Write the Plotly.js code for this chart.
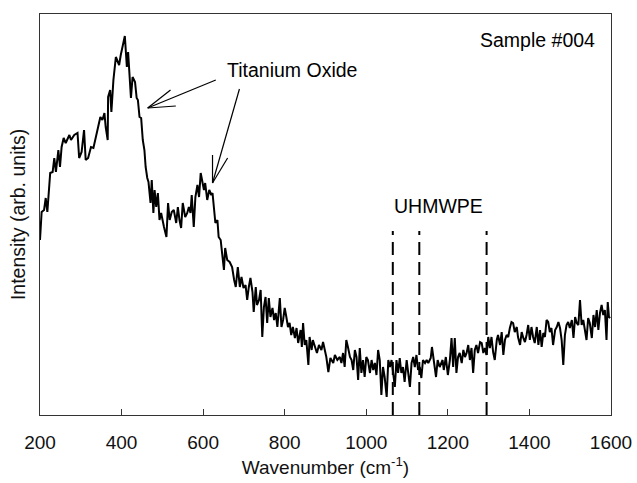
<!DOCTYPE html>
<html>
<head>
<meta charset="utf-8">
<script src="https://cdn.plot.ly/plotly-3.0.1.min.js"></script>
<style>html,body{margin:0;padding:0;background:#fff;}#chart{width:637px;height:483px;}</style>
</head>
<body>
<div id="chart"></div>
<script>
// Raman spectrum (wavenumber in cm^-1, intensity in arbitrary units)
const wavenumber = [
200,204,210,214,218,225,231,235,239,245,249,253,258,263,272,276,284,292,296,302,308,312,318,325,331,337,343,348,353,358,361,366,367,372,375,380,386,390,394,398,405,408,413,416,423,427,433,437,
440,444,448,452,456,459,463,466,471,474,478,481,485,489,493,497,504,510,514,518,523,528,534,538,542,546,550,556,561,565,569,572,577,581,586,590,594,598,602,605,610,615,620,623,627,630,635,638,643,646,651,654,659,665,671,676,
680,685,690,694,699,704,708,712,716,721,724,729,732,737,741,745,749,753,757,761,765,770,774,778,782,788,792,796,800,804,808,812,816,820,825,829,833,839,842,845,849,853,858,861,866,869,874,879,884,890,894,898,902,907,912,919,923,
929,935,939,943,947,951,955,960,964,968,972,976,980,984,988,992,996,1000,1004,1009,1013,1017,1021,1025,1029,1033,1037,1041,1045,1050,1054,1058,1062,1066,1070,1074,1078,1082,1086,1090,1094,1099,1103,1107,1111,1115,1119,1123,1127,1131,1135,1139,1144,1148,1152,1158,1161,1166,1171,1175,1180,
1187,1190,1195,1200,1205,1209,1213,1217,1221,1225,1229,1234,1238,1242,1246,1250,1254,1258,1262,1266,1270,1274,1279,1283,1287,1291,1295,1299,1303,1307,1311,1315,1320,1323,1328,1332,1336,1340,1344,1348,1352,1356,1360,1364,1369,1372,1377,1381,1385,1389,1393,1397,1401,1405,1409,1413,
1418,1422,1426,1430,1434,1438,1442,1446,1450,1454,1458,1463,1467,1471,1475,1479,1483,1487,1491,1495,1499,1504,1508,1512,1516,1520,1524,1528,1532,1536,1540,1544,1548,1553,1557,1561,1565,1569,1573,1577,1581,1585,1589,1592,1595,1598
];
const intensity = [
174,202,204,216,202,241,242,256,242,264,247,267,276,271,279,274,279,281,256,262,284,254,256,267,266,276,289,297,294,301,287,274,317,324,302,334,357,352,349,359,374,378,347,362,316,337,332,316,
314,297,296,274,264,247,236,232,211,234,201,224,207,221,194,201,187,177,211,194,202,204,191,207,194,186,211,197,201,207,201,219,187,217,229,217,241,234,224,231,214,224,219,221,201,191,194,177,174,164,144,166,154,152,147,134,
127,147,127,137,126,129,114,127,136,122,102,127,109,114,124,77,107,117,91,116,97,106,94,101,87,116,87,94,106,97,87,91,79,87,76,86,71,84,67,91,69,74,49,77,64,74,67,61,69,64,72,64,57,42,56,51,59,
54,57,51,61,47,74,67,57,54,44,64,57,34,66,41,54,37,57,54,41,54,44,51,39,64,54,19,47,37,17,54,47,54,37,27,54,41,56,41,47,32,54,41,27,51,57,47,59,44,47,36,54,51,54,51,56,67,54,37,54,47,
54,44,57,39,54,76,47,76,41,57,61,51,64,57,61,69,54,66,41,64,69,61,72,71,61,66,59,77,66,77,62,54,74,79,69,82,59,74,79,77,86,92,91,82,87,77,69,82,76,72,79,89,74,87,77,71,
87,69,84,67,81,77,94,92,82,86,69,84,87,92,86,74,49,79,89,92,86,94,76,97,91,89,114,89,94,82,74,96,91,76,99,87,104,84,101,109,99,104,74,112,97,96
];
// UHMWPE reference bands (dashed markers)
const uhmwpeBands = [1065, 1130, 1295];
const bandTop = 183;
const xTicks = [200, 400, 600, 800, 1000, 1200, 1400, 1600];
const xTickText = ['200', '400', '600', '800', '1000', '1200', '1400', '1600'];

const FONT = 'Liberation Sans, Arial, Helvetica, sans-serif';

const traces = [{
  x: wavenumber, y: intensity, type: 'scatter', mode: 'lines',
  line: {color: '#000', width: 2}, hoverinfo: 'skip', showlegend: false
}];

const shapes = uhmwpeBands.map(b => ({
  type: 'line', xref: 'x', yref: 'y', x0: b, x1: b, y0: -1, y1: bandTop,
  line: {color: '#000', width: 2, dash: '13px,7px'}
}));

// open "V" arrows pointing at the titanium oxide bands: [tipX, tipY, tailX, tailY, barb1X, barb1Y, barb2X, barb2Y]
const arrows = [
  [464, 306, 631, 334, 520, 324, 533, 308],
  [623, 231, 689, 325, 623, 259, 660, 256]
];
arrows.forEach(a => {
  [[a[2], a[3]], [a[4], a[5]], [a[6], a[7]]].forEach(p => {
    shapes.push({type: 'line', xref: 'x', yref: 'y', x0: a[0], y0: a[1], x1: p[0], y1: p[1],
                 line: {color: '#000', width: 1.2}});
  });
});

const annotations = [
  {x: 817, y: 344, xref: 'x', yref: 'y', text: 'Titanium Oxide', showarrow: false,
   xanchor: 'center', yanchor: 'middle', font: {family: FONT, size: 19.5, color: '#000'}},
  {x: 1178, y: 208, xref: 'x', yref: 'y', text: 'UHMWPE', showarrow: false,
   xanchor: 'center', yanchor: 'middle', font: {family: FONT, size: 19.5, color: '#000'}},
  {x: 1566, y: 374, xref: 'x', yref: 'y', text: 'Sample #004', showarrow: false,
   xanchor: 'right', yanchor: 'middle', font: {family: FONT, size: 19.5, color: '#000'}}
];

const layout = {
  width: 637, height: 483,
  margin: {l: 40, r: 26, t: 14, b: 68, pad: 0},
  paper_bgcolor: '#fff', plot_bgcolor: '#fff',
  font: {family: FONT, size: 19, color: '#000'},
  showlegend: false,
  xaxis: {
    range: [200, 1600], tickvals: xTicks, ticktext: xTickText,
    ticks: 'inside', ticklen: 6, tickwidth: 1, tickcolor: '#333',
    showline: true, linecolor: '#333', linewidth: 1, mirror: true,
    showgrid: false, zeroline: false, automargin: false,
    ticklabelstandoff: 10,
    tickfont: {family: FONT, size: 19, color: '#111'},
    title: {text: 'Wavenumber (cm<sup>-1</sup>)', font: {family: FONT, size: 19, color: '#111'}, standoff: 8}
  },
  yaxis: {
    range: [-1, 400], showticklabels: false, ticks: '',
    showline: true, linecolor: '#333', linewidth: 1, mirror: true,
    showgrid: false, zeroline: false, automargin: false,
    title: {text: 'Intensity (arb. units)', font: {family: FONT, size: 19.5, color: '#111'}, standoff: 8}
  },
  shapes: shapes,
  annotations: annotations
};

Plotly.newPlot('chart', traces, layout, {displayModeBar: false, staticPlot: true});
</script>
</body>
</html>
